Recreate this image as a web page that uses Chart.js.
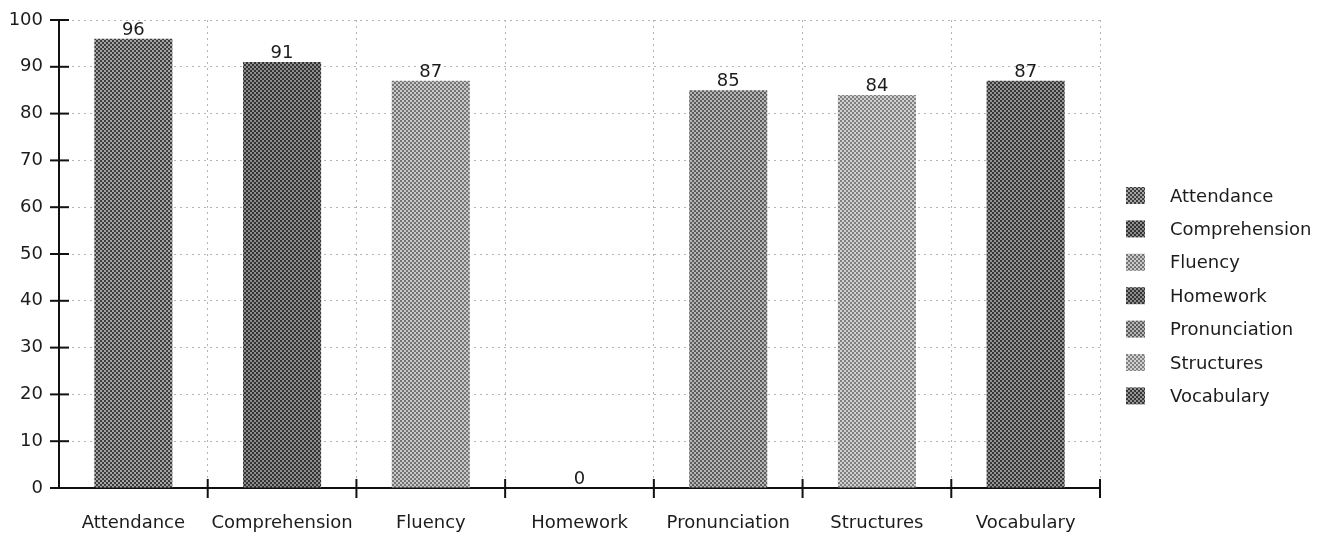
<!DOCTYPE html>
<html>
<head>
<meta charset="utf-8">
<script src="https://cdn.jsdelivr.net/npm/chart.js@4.4.1/dist/chart.umd.min.js"></script>
<style>
  html, body { margin: 0; padding: 0; background: #fff; }
  canvas { display: block; }
</style>
</head>
<body>
<canvas id="scoreChart" width="1328" height="545"></canvas>
<script>
// Chart data
const categories = ['Attendance', 'Comprehension', 'Fluency', 'Homework', 'Pronunciation', 'Structures', 'Vocabulary'];
const scores = [96, 91, 87, 0, 85, 84, 87];
const yMin = 0;
const yMax = 100;
const yStep = 10;

// halftone tones per category (dark dots / light dots)
const darkTones = ['#3c3c3c', '#333333', '#747474', '#353535', '#5c5c5c', '#808080', '#363636'];
const lightTones = ['#a4a4a4', '#8c8c8c', '#c8c8c8', '#8c8c8c', '#b6b6b6', '#d0d0d0', '#949494'];

document.addEventListener('DOMContentLoaded', function() {
    const chartEl = document.getElementById('scoreChart');
    if (!chartEl || !window.Chart) return;

    const FONT = "'DejaVu Sans', Verdana, sans-serif";
    const TEXT = '#1c1c1c';

    function makePattern(dark, light) {
        const c = document.createElement('canvas');
        c.width = 4; c.height = 4;
        const g = c.getContext('2d');
        g.fillStyle = light;
        g.fillRect(0, 0, 4, 4);
        g.fillStyle = dark;
        g.fillRect(0, 0, 2, 2);
        g.fillRect(2, 2, 2, 2);
        return g.createPattern(c, 'repeat');
    }

    const fills = categories.map((_, i) => makePattern(darkTones[i], lightTones[i]));

    // crossing tick marks on both axes
    const axisTicks = {
        id: 'axisTicks',
        afterDatasetsDraw(chart) {
            const ctx = chart.ctx;
            const x = chart.scales.x, y = chart.scales.y;
            const area = chart.chartArea;
            ctx.save();
            ctx.strokeStyle = '#111';
            ctx.lineWidth = 2;
            y.ticks.forEach(t => {
                const py = y.getPixelForValue(t.value);
                ctx.beginPath();
                ctx.moveTo(area.left - 9, py);
                ctx.lineTo(area.left + 10, py);
                ctx.stroke();
            });
            for (let i = 1; i <= categories.length; i++) {
                const px = x.getPixelForValue(i - 0.5);
                ctx.beginPath();
                ctx.moveTo(px, area.bottom - 9);
                ctx.lineTo(px, area.bottom + 10);
                ctx.stroke();
            }
            ctx.restore();
        }
    };

    // value labels above the bars
    const valueLabels = {
        id: 'valueLabels',
        afterDatasetsDraw(chart) {
            const ctx = chart.ctx;
            const meta = chart.getDatasetMeta(0);
            ctx.save();
            ctx.font = '18px ' + FONT;
            ctx.fillStyle = TEXT;
            ctx.textAlign = 'center';
            ctx.textBaseline = 'alphabetic';
            meta.data.forEach((bar, i) => {
                ctx.fillText(String(scores[i]), bar.x, bar.y - 4);
            });
            ctx.restore();
        }
    };

    // legend on the right, one entry per category
    const sideLegend = {
        id: 'sideLegend',
        afterDraw(chart) {
            const ctx = chart.ctx;
            const left = chart.chartArea.right + 26;
            const top = 196;
            const rowH = 33.4;
            ctx.save();
            ctx.font = '18px ' + FONT;
            ctx.fillStyle = TEXT;
            ctx.textBaseline = 'middle';
            categories.forEach((name, i) => {
                const cy = top + i * rowH;
                ctx.fillStyle = fills[i];
                ctx.fillRect(left, cy - 9, 19, 17);
                ctx.fillStyle = TEXT;
                ctx.fillText(name, left + 44, cy + 1);
            });
            ctx.restore();
        }
    };

    try {
        new Chart(chartEl, {
            type: 'bar',
            data: {
                labels: categories,
                datasets: [{
                    label: 'Score',
                    data: scores,
                    backgroundColor: fills,
                    borderWidth: 0,
                    barPercentage: 0.525,
                    categoryPercentage: 1.0
                }]
            },
            options: {
                responsive: false,
                animation: false,
                layout: { padding: { top: 20, right: 228, left: 0, bottom: 0 } },
                plugins: {
                    legend: { display: false },
                    tooltip: { enabled: false }
                },
                scales: {
                    x: {
                        grid: { color: '#b4b4b4', drawTicks: false, offset: true },
                        border: { color: '#111', width: 2, dash: [2, 4] },
                        ticks: { color: TEXT, font: { family: FONT, size: 18 }, padding: 25, maxRotation: 0, autoSkip: false },
                        afterFit(scale) { scale.height = 57; }
                    },
                    y: {
                        min: yMin,
                        max: yMax,
                        grid: { color: '#b4b4b4', drawTicks: false },
                        border: { color: '#111', width: 2, dash: [2, 4] },
                        ticks: { stepSize: yStep, color: TEXT, font: { family: FONT, size: 18 }, padding: 16 },
                        afterFit(scale) {
                            scale.width = 59;
                            scale.paddingTop = 0;
                            scale.paddingBottom = 0;
                        }
                    }
                }
            },
            plugins: [axisTicks, valueLabels, sideLegend]
        });
    } catch (error) {
        console.error('Error drawing chart:', error);
    }
});
</script>
</body>
</html>
